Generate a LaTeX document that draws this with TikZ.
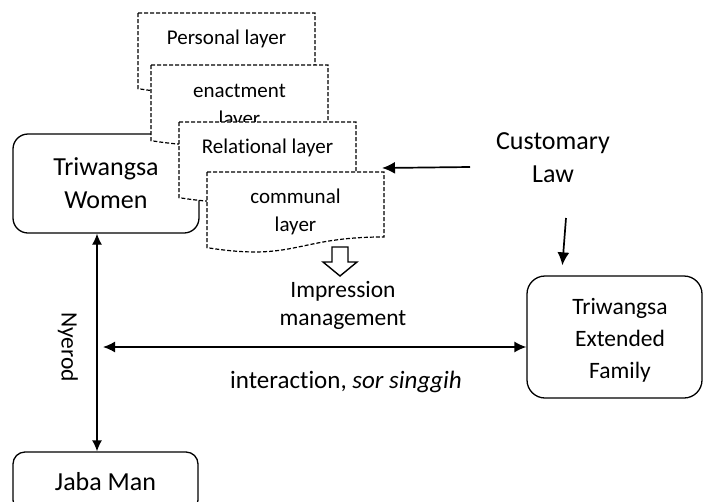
\documentclass[tikz,border=0pt]{standalone}
\usepackage{fontspec}
\setmainfont[Ligatures={NoCommon}]{Carlito}
\usetikzlibrary{arrows.meta,calc}
\newcommand\docshape[1]{%
  \draw[docline] (#1.north west) -- (#1.north east)
    -- ($(#1.north east)!0.802!(#1.south east)$)
    .. controls ($(#1.north)!0.802!(#1.south)$) and ($(#1.north)!1.1075!(#1.south)$)
    .. ($(#1.north west)!0.934!(#1.south west)$) -- cycle;}
\begin{document}
\begin{tikzpicture}[x=1pt,y=-1pt,
  box/.style={draw, line width=1.3pt, rounded corners=15pt, inner sep=0pt, align=center},
  docsize/.style={minimum width=177pt, minimum height=81pt, inner sep=0pt, outer sep=0pt, anchor=north west},
  docline/.style={fill=white, line width=1.2pt, dash pattern=on 4pt off 2pt},
  big/.style={font=\fontsize{26}{33}\selectfont, align=center},
  lay/.style={font=\fontsize{21}{28}\selectfont, align=center, inner sep=0pt},
  arr/.style={line width=1.7pt, -{Latex[length=13pt,width=12pt]}},
  darr/.style={line width=1.4pt, {Latex[length=12pt,width=11pt]}-{Latex[length=12pt,width=11pt]}},
  varr/.style={line width=1.3pt, {Latex[length=11pt,width=10pt]}-{Latex[length=11pt,width=10pt]}},
]
\useasboundingbox (0,0) rectangle (704,501);
\clip (0,0) rectangle (704,501);

% main boxes
\node[box, big, minimum width=186pt, minimum height=99pt] (women) at (106,183.5) {Triwangsa\\Women};
\node[box, big, rounded corners=12pt, minimum width=185pt, minimum height=60pt] (jaba) at (105.5,482) {Jaba Man};
\node[box, rounded corners=18pt, minimum width=175pt, minimum height=122pt] (ext) at (614.5,337) {};
\node[font=\fontsize{23.5}{32}\selectfont, align=center] (extt) at (620,340) {Triwangsa\\Extended\\Family};

% layered documents
\node[docsize] (pers) at (138,13) {};
\docshape{pers}
\node[lay] (perst) at ($(pers.north)+(0,26)$) {Personal layer};

\node[docsize] (enac) at (151,65) {};
\docshape{enac}
\node[lay] (enact) at ($(enac.north)+(0,42)$) {enactment\\layer};

\node[docsize] (rel) at (179,122) {};
\docshape{rel}
\node[lay] (relt) at ($(rel.north)+(0,26)$) {Relational layer};

\node[docsize] (comm) at (207,172) {};
\docshape{comm}
\node[lay] (commt) at ($(comm.north)+(0,40)$) {communal\\layer};

% hollow arrow
\draw[line width=1.4pt, fill=white] (332,247) -- (348,247) -- (348,262) -- (357,262)
  -- (340,276) -- (323,262) -- (332,262) -- cycle;

% labels
\node[big] (law) at (553,158) {Customary\\Law};
\node[font=\fontsize{23.5}{28}\selectfont, align=center] (imp) at (343,305) {Impression\\management};
\node[font=\fontsize{25}{30}\selectfont] (inter) at (346,382) {interaction, \textit{sor singgih}};
\node[font=\fontsize{23.5}{28}\selectfont, rotate=-90] (nyer) at (68,347) {Nyerod};

% connectors
\coordinate (lawL) at (470,167);
\draw[arr] (lawL) -- ($(comm.north east)+(-2,-4)$);
\coordinate (lawD) at (566,218);
\draw[arr] (lawD) -- ($(ext.north west)+(36,-10)$);
\draw[varr] ([xshift=-9pt]women.south) -- ([xshift=-8.5pt]jaba.north);
\coordinate (hl) at (103,347);
\draw[darr] (hl) -- (ext.west |- hl);
\end{tikzpicture}
\end{document}
